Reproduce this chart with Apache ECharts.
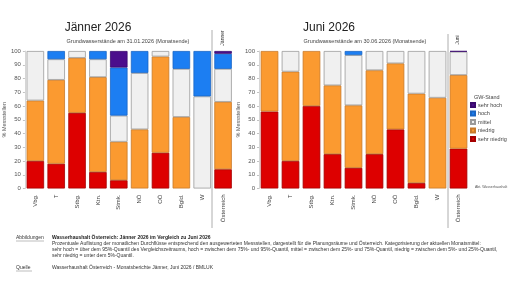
<!DOCTYPE html>
<html lang="de">
<head>
    <meta charset="UTF-8">
    <title>Grundwasserstände Jänner / Juni 2026</title>
    <script type="text/javascript" src="https://cdn.jsdelivr.net/npm/echarts@6/dist/echarts.min.js"></script>
    <style>
        html, body { margin: 0; padding: 0; background: #fff; }
    </style>
</head>
<body>
    <div id="chart" style="width:512px;height:288px;"></div>
<script>
// Planungsräume + Österreich
var regions = ['Vbg.', 'T', 'Stbg.', 'Ktn.', 'Stmk.', 'NÖ', 'OÖ', 'Bgld.', 'W', 'Österreich'];
var yTicks = [0, 10, 20, 30, 40, 50, 60, 70, 80, 90, 100];

// Jänner 2026 (% Messstellen)
var janSehrNiedrig = [20, 18, 55, 12, 6, 0, 26, 0, 0, 14];
var janNiedrig     = [44, 61, 40, 69, 28, 43, 70, 52, 0, 49];
var janMittel      = [36, 15, 5, 13, 19, 41, 4, 35, 67, 24];
var janHoch        = [0, 6, 0, 6, 35, 16, 0, 13, 33, 11];
var janSehrHoch    = [0, 0, 0, 0, 12, 0, 0, 0, 0, 2];

// Juni 2026 (% Messstellen)
var junSehrNiedrig = [56, 20, 60, 25, 15, 25, 43, 4, 0, 29];
var junNiedrig     = [44, 65, 40, 50, 45.5, 61, 48, 65, 66, 53.5];
var junMittel      = [0, 15, 0, 25, 36.5, 14, 9, 31, 34, 17];
var junHoch        = [0, 0, 0, 0, 3, 0, 0, 0, 0, 0];
var junSehrHoch    = [0, 0, 0, 0, 0, 0, 0, 0, 0, 0.5];

var classes = ['sehr hoch', 'hoch', 'mittel', 'niedrig', 'sehr niedrig'];

var farben = {
    'sehr hoch':    { c: '#4b0e8c', b: '#3a0a6e' },
    'hoch':         { c: '#1c7ef2', b: '#1a66c4' },
    'mittel':       { c: '#f0f0f0', b: '#9a9a9a' },
    'niedrig':      { c: '#fb9a30', b: '#c87a2a' },
    'sehr niedrig': { c: '#dd0000', b: '#a50000' }
};

var FONT = '"Liberation Sans", Arial, sans-serif';

function mkSeries(name, data, idx) {
    return {
        name: name,
        type: 'bar',
        stack: 'st' + idx,
        xAxisIndex: idx,
        yAxisIndex: idx,
        barCategoryGap: '16%',
        data: data.map(function (v) { return v > 0 ? v : '-'; }),
        itemStyle: {
            color: farben[name].c,
            borderColor: farben[name].b,
            borderWidth: 0.8
        }
    };
}

function xAx(idx) {
    return {
        type: 'category', gridIndex: idx, data: regions,
        axisLine: { show: false }, axisTick: { show: false },
        axisLabel: { rotate: 90, fontSize: 6, color: '#444', fontFamily: FONT, margin: 6, interval: 0 }
    };
}
function yAx(idx) {
    return {
        type: 'value', gridIndex: idx, min: yTicks[0], max: yTicks[yTicks.length - 1], interval: 10,
        name: '% Messstellen', nameLocation: 'middle', nameGap: 15,
        nameTextStyle: { fontSize: 5.5, color: '#555', fontFamily: FONT },
        splitLine: { show: false },
        axisLine: { show: true, lineStyle: { color: '#bbb', width: 0.6 } },
        axisTick: { show: true, length: 2, lineStyle: { color: '#999', width: 0.6 } },
        axisLabel: { fontSize: 6, color: '#555', fontFamily: FONT, margin: 4 }
    };
}

var series = [];
series.push(mkSeries('sehr niedrig', janSehrNiedrig, 0));
series.push(mkSeries('niedrig', janNiedrig, 0));
series.push(mkSeries('mittel', janMittel, 0));
series.push(mkSeries('hoch', janHoch, 0));
series.push(mkSeries('sehr hoch', janSehrHoch, 0));
series.push(mkSeries('sehr niedrig', junSehrNiedrig, 1));
series.push(mkSeries('niedrig', junNiedrig, 1));
series.push(mkSeries('mittel', junMittel, 1));
series.push(mkSeries('hoch', junHoch, 1));
series.push(mkSeries('sehr hoch', junSehrHoch, 1));

function txt(x, y, s, opt) {
    opt = opt || {};
    return {
        type: 'text', x: x, y: y, rotation: opt.rot || 0,
        style: {
            text: s, fill: opt.color || '#333', fontSize: opt.size || 5,
            fontFamily: FONT, fontWeight: opt.bold ? 'bold' : 'normal',
            textAlign: opt.align || 'left', textVerticalAlign: 'middle'
        }
    };
}
function vline(x, y1, y2) {
    return { type: 'line', shape: { x1: x, y1: y1, x2: x, y2: y2 }, style: { stroke: '#999', lineWidth: 0.8 } };
}

var graphic = [
    txt(98, 28, 'Jänner 2026', { size: 12, color: '#222', align: 'center' }),
    txt(128, 41, 'Grundwasserstände am 31.01.2026 (Monatsende)', { size: 5.5, color: '#444', align: 'center' }),
    txt(223, 38, 'Jänner', { size: 5, color: '#333', align: 'center', rot: Math.PI / 2 }),
    txt(329, 28, 'Juni 2026', { size: 12, color: '#222', align: 'center' }),
    txt(365, 41, 'Grundwasserstände am 30.06.2026 (Monatsende)', { size: 5.5, color: '#444', align: 'center' }),
    txt(458, 40, 'Juni', { size: 5, color: '#333', align: 'center', rot: Math.PI / 2 }),
    txt(474, 97, 'GW-Stand', { size: 5.5, color: '#444' }),
    txt(475, 187, 'Abt. Wasserhaushalt', { size: 3.5, color: '#555' }),
    vline(212, 30, 228),
    vline(448, 34, 228),
    txt(16, 238, 'Abbildungen', { size: 5, color: '#333' }),
    { type: 'line', shape: { x1: 16, y1: 241, x2: 44, y2: 241 }, style: { stroke: '#555', lineWidth: 0.4 } },
    txt(52, 238, 'Wasserhaushalt Österreich: Jänner 2026 im Vergleich zu Juni 2026', { size: 5, bold: true, color: '#222' }),
    txt(52, 244, 'Prozentuale Auflistung der monatlichen Durchflüsse entsprechend den ausgewerteten Messstellen, dargestellt für die Planungsräume und Österreich. Kategorisierung der aktuellen Monatsmittel:', { size: 5 }),
    txt(52, 250, 'sehr hoch = über dem 95%-Quantil des Vergleichszeitraums, hoch = zwischen dem 75%- und 95%-Quantil, mittel = zwischen dem 25%- und 75%-Quantil, niedrig = zwischen dem 5%- und 25%-Quantil,', { size: 5 }),
    txt(52, 256, 'sehr niedrig = unter dem 5%-Quantil.', { size: 5 }),
    txt(16, 268, 'Quelle', { size: 5, color: '#333' }),
    { type: 'line', shape: { x1: 16, y1: 271, x2: 32, y2: 271 }, style: { stroke: '#555', lineWidth: 0.4 } },
    txt(52, 268, 'Wasserhaushalt Österreich - Monatsberichte Jänner, Juni 2026 / BMLUK', { size: 5 })
];

var myChart = echarts.init(document.getElementById('chart'), null, { renderer: 'canvas' });

var option = {
    backgroundColor: '#ffffff',
    animation: false,
    grid: [
        { left: 22.5, width: 211, top: 51, height: 137.5 },
        { left: 259, width: 210, top: 51, height: 137.5 }
    ],
    xAxis: [xAx(0), xAx(1)],
    yAxis: [yAx(0), yAx(1)],
    legend: {
        data: classes,
        orient: 'vertical',
        left: 470, top: 102,
        padding: 0,
        itemWidth: 4, itemHeight: 4, itemGap: 2.5,
        icon: 'rect',
        textStyle: { fontSize: 5.5, lineHeight: 4, color: '#444', fontFamily: FONT, padding: [0, 0, 0, -2] }
    },
    graphic: graphic,
    series: series
};

myChart.setOption(option);
</script>
</body>
</html>
